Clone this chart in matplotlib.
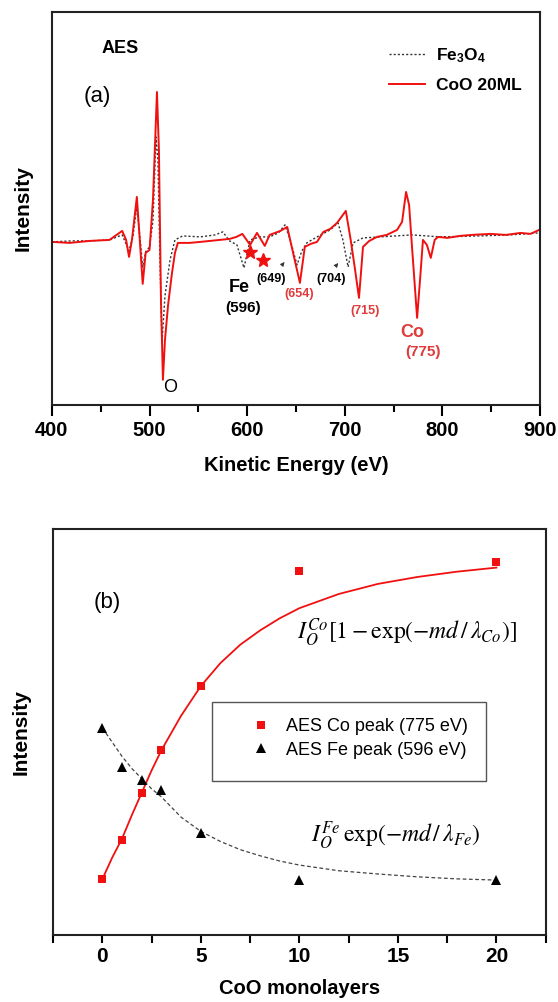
import numpy as np
import matplotlib
matplotlib.use('Agg')
import matplotlib.pyplot as plt
from matplotlib.lines import Line2D
from matplotlib.patches import Rectangle

plt.rcParams['font.family'] = ['Liberation Sans', 'DejaVu Sans']
plt.rcParams['mathtext.fontset'] = 'custom'
plt.rcParams['mathtext.rm'] = 'Liberation Sans:bold'
plt.rcParams['mathtext.it'] = 'Liberation Sans:bold'
plt.rcParams['mathtext.bf'] = 'Liberation Sans:bold'

# ---- (a) AES spectra ----
coo_ev = [400, 418, 439, 459, 472, 476, 479, 482, 487, 490, 493, 496, 500, 503.5,
          507.6, 509.6, 511.7, 513.7, 515.8, 519, 523, 526, 529, 541, 552, 562, 572,
          582, 589, 595, 603, 610, 618, 623, 634, 641, 647, 654, 659, 665, 671.5, 678,
          685, 692, 701, 706, 710.5, 714.5, 718.6, 725, 733, 743, 753.5, 758.6, 762.7,
          765.8, 769, 774, 777, 780, 784, 788, 792, 795.5, 805, 818, 830, 849, 865,
          880, 890, 899]
coo_int = [-1, -2, 0, 1, 10, 1, -16, 1, 44, 1, -43, -12, -9, 41,
           149, 91, -59, -139, -99, -64, -32, -12, -2, -2, -1, 0, 1,
           2, 4, 7, -4, 8, -5, 6, 10, 14, -12, -42, -6, -3, -1, 9,
           12, 18, 30, 1, -29, -57, -6, 0, 4, 6, 11, 19, 49,
           36, -9, -77, -39, 1, -4, -17, 1, 4, 3, 5, 6, 7, 6,
           8, 7, 11]

fe3o4_ev = [400, 420, 439, 459, 472, 479, 483, 487, 491, 493, 496, 500, 503.5, 506.6,
            508.6, 510.7, 512.7, 515.8, 521, 526, 534, 552, 567, 575, 582, 589.5, 596.7,
            603, 613, 623, 632, 638.7, 644, 651, 656, 661, 671.5, 685, 693, 698, 703.3,
            708.4, 718.6, 736, 769, 797.5, 838.5, 869, 899]
fe3o4_int = [-1, 0, 0, 1, 6, -10, 5, 34, -5, -26, -11, -6, 20, 104,
             80, -20, -102, -55, -19, 1, 5, 4, 6, 9, 0, -4, -27,
             1, 4, 4, 8, 16, 1, -24, -10, -2, 4, 11, 18, 1, -26,
             -2, 3, 4, 6, 4, 5, 6, 8]

star_ev = [603, 616]
star_int = [-11, -19]

# ---- (b) peak intensity vs CoO thickness ----
layers = [0, 1, 2, 3, 5, 10, 20]
co_peak = [0.137, 0.233, 0.350, 0.456, 0.613, 0.897, 0.919]
fe_peak = [0.510, 0.414, 0.382, 0.358, 0.250, 0.135, 0.135]

fit_x = [0, 0.5, 1, 1.5, 2, 2.5, 3, 4, 5, 6, 7, 8, 9, 10, 12, 14, 16, 18, 20]
co_fit = [0.137, 0.19, 0.237, 0.295, 0.35, 0.405, 0.455, 0.54, 0.613, 0.67, 0.715,
          0.75, 0.78, 0.805, 0.84, 0.865, 0.882, 0.895, 0.905]
fe_fit = [0.51, 0.475, 0.44, 0.41, 0.385, 0.36, 0.34, 0.29, 0.255, 0.23, 0.21,
          0.195, 0.182, 0.172, 0.158, 0.15, 0.143, 0.138, 0.135]

red = '#f01010'
lab_red = '#e03a3a'

fig = plt.figure(figsize=(5.58, 10.02), dpi=100)

# ================= top panel =================
ax1 = fig.add_axes([0.093, 0.596, 0.875, 0.392])
ax1.plot(fe3o4_ev, fe3o4_int, color='#333333', lw=1.0, ls=(0, (1.5, 1.5)), label='Fe$_3$O$_4$')
ax1.plot(coo_ev, coo_int, color=red, lw=1.4, label='CoO 20ML')
ax1.plot(star_ev, star_int, ls='none', marker='*', ms=10, color=red)
ax1.set_xlim(400, 900)
ax1.set_ylim(-164, 229)
ax1.set_yticks([])
ax1.set_xticks(np.arange(400, 901, 100))
ax1.set_xticks(np.arange(450, 900, 100), minor=True)
ax1.tick_params(axis='x', which='major', direction='out', length=8, width=1.5, labelsize=14.5, pad=4)
ax1.tick_params(axis='x', which='minor', direction='out', length=5, width=1.5)
for lab in ax1.get_xticklabels():
    lab.set_fontweight('bold')
for sp in ax1.spines.values():
    sp.set_linewidth(1.5)
    sp.set_color('#222222')
ax1.set_xlabel('Kinetic Energy (eV)', fontsize=14.5, fontweight='bold', labelpad=11)
ax1.set_ylabel('Intensity', fontsize=15, fontweight='bold', labelpad=14)

leg = ax1.legend(loc='upper left', bbox_to_anchor=(0.672, 0.935), frameon=False,
                 prop={'size': 12.5, 'weight': 'bold'}, handlelength=2.1, handletextpad=0.6,
                 labelspacing=0.75, borderpad=0)
for t in leg.get_texts():
    t.set_math_fontfamily('custom')

ax1.text(0.139, 0.908, 'AES', transform=ax1.transAxes, fontsize=13, fontweight='bold',
         ha='center', va='center')
ax1.text(0.092, 0.784, '(a)', transform=ax1.transAxes, fontsize=16, ha='center', va='center')
ax1.text(521, -147, 'O', fontsize=13, ha='center', va='center')
ax1.text(591.5, -47, 'Fe', fontsize=13, fontweight='bold', ha='center', va='center')
ax1.text(595.5, -67, '(596)', fontsize=11, fontweight='bold', ha='center', va='center')
ax1.text(624.5, -38, '(649)', fontsize=9, fontweight='bold', ha='center', va='center')
ax1.text(653, -53, '(654)', fontsize=9, fontweight='bold', color=lab_red, ha='center', va='center')
ax1.text(686, -38, '(704)', fontsize=9, fontweight='bold', ha='center', va='center')
ax1.text(720.5, -70, '(715)', fontsize=9, fontweight='bold', color=lab_red, ha='center', va='center')
ax1.text(769, -92, 'Co', fontsize=13, fontweight='bold', color=lab_red, ha='center', va='center')
ax1.text(780, -111, '(775)', fontsize=11, fontweight='bold', color=lab_red, ha='center', va='center')
ax1.annotate('', xy=(640, -19), xytext=(635, -25),
             arrowprops=dict(arrowstyle='-|>', lw=0.6, color='#333333', mutation_scale=6))
ax1.annotate('', xy=(695, -20), xytext=(690, -26),
             arrowprops=dict(arrowstyle='-|>', lw=0.6, color='#333333', mutation_scale=6))

# ================= bottom panel =================
ax2 = fig.add_axes([0.095, 0.067, 0.883, 0.405])
ax2.plot(fit_x, co_fit, color=red, lw=1.3)
ax2.plot(fit_x, fe_fit, color='#444444', lw=0.9, ls=(0, (3, 2)))
ax2.plot(layers, co_peak, ls='none', marker='s', ms=5.5, color=red, mew=0)
ax2.plot(layers, fe_peak, ls='none', marker='^', ms=7, color='black', mew=0)
ax2.set_xlim(-2.5, 22.5)
ax2.set_ylim(0, 1)
ax2.set_yticks([])
ax2.set_xticks([0, 5, 10, 15, 20])
ax2.set_xticks([-2.5, 2.5, 7.5, 12.5, 17.5, 22.5], minor=True)
ax2.tick_params(axis='x', which='both', direction='out', length=6, width=1.5, labelsize=15, pad=3)
for lab in ax2.get_xticklabels():
    lab.set_fontweight('bold')
for sp in ax2.spines.values():
    sp.set_linewidth(1.5)
    sp.set_color('#222222')
ax2.set_xlabel('CoO monolayers', fontsize=14.5, fontweight='bold', labelpad=9)
ax2.set_ylabel('Intensity', fontsize=15, fontweight='bold', labelpad=16)

ax2.add_patch(Rectangle((0.3225, 0.38), 0.5555, 0.1935, transform=ax2.transAxes,
                        fill=False, ec='#555555', lw=1.0))
handles = [Line2D([], [], ls='none', marker='s', ms=5.5, color=red, mew=0),
           Line2D([], [], ls='none', marker='^', ms=7, color='black', mew=0)]
ax2.legend(handles, ['AES Co peak (775 eV)', 'AES Fe peak (596 eV)'], loc='upper left',
           bbox_to_anchor=(0.385, 0.556), frameon=False, prop={'size': 13},
           handlelength=1.0, handletextpad=0.9, labelspacing=0.35, borderpad=0)

ax2.text(0.11, 0.819, '(b)', transform=ax2.transAxes, fontsize=16, ha='center', va='center')
ax2.text(15.45, 0.745, r'$I_O^{Co}[1-\exp(-md\,/\,\lambda_{Co})]$', fontsize=17,
         ha='center', va='center', math_fontfamily='stix')
ax2.text(14.9, 0.245, r'$I_O^{Fe}\,\exp(-md\,/\,\lambda_{Fe})$', fontsize=17,
         ha='center', va='center', math_fontfamily='stix')

fig.savefig('out.png', dpi=100)
